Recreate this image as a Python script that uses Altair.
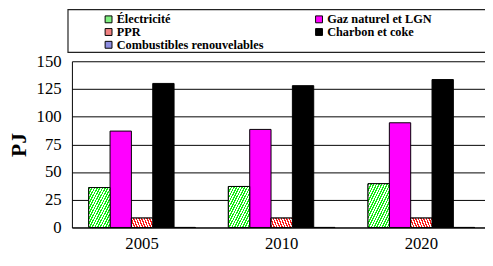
import altair as alt
import pandas as pd

years = ["2005", "2010", "2020"]
categories = ["Électricité", "Gaz naturel et LGN", "PPR", "Charbon et coke",
              "Combustibles renouvelables"]
electricite = [36, 37, 39.5]
gaz = [87, 88.5, 94.5]
ppr = [8.5, 8.5, 8.5]
charbon = [130, 128, 133.5]
renouvelables = [0, 0, 0]

series = [electricite, gaz, ppr, charbon, renouvelables]
rows = []
for cat, vals in zip(categories, series):
    for y, v in zip(years, vals):
        rows.append({"year": y, "category": cat, "value": v})
df = pd.DataFrame(rows)

solid_colors = ["#80F080", "#FF00FF", "#F08080", "#000000", "#8C8CE0"]
hatch = {
    "Électricité": "#10F010",
    "PPR": "#FF1A1A",
    "Combustibles renouvelables": "#3333CC",
}

FONT = "Liberation Serif"

x_enc = alt.X("year:N", sort=years,
              scale=alt.Scale(paddingInner=0.236, paddingOuter=0.097, align=0.62),
              axis=alt.Axis(title=None, labelAngle=0, labelFont=FONT, labelFontSize=17,
                            labelColor="black", labelPadding=8, ticks=False,
                            domainColor="black", domainWidth=1))
xo_enc = alt.XOffset("category:N", sort=categories,
                     scale=alt.Scale(domain=categories, paddingInner=0, paddingOuter=0))
y_enc = alt.Y("value:Q",
              scale=alt.Scale(domain=[0, 150], nice=False),
              axis=alt.Axis(title="PJ", values=[0, 25, 50, 75, 100, 125, 150],
                            titleFont=FONT, titleFontSize=22, titleFontWeight="bold",
                            titleColor="black", titlePadding=6,
                            labelFont=FONT, labelFontSize=17, labelColor="black",
                            labelPadding=11, ticks=False, grid=True,
                            gridColor="black", gridWidth=1,
                            domainColor="black", domainWidth=1))

base = alt.Chart(df).mark_bar(stroke="black", strokeWidth=1).encode(
    x=x_enc, xOffset=xo_enc, y=y_enc,
    color=alt.Color("category:N", sort=categories,
                    scale=alt.Scale(domain=categories, range=solid_colors),
                    legend=alt.Legend(orient="none", legendX=31, legendY=-49,
                                      direction="horizontal",
                                      columns=2, columnPadding=50, rowPadding=0,
                                      symbolType="square", symbolSize=49,
                                      symbolStrokeColor="black", symbolStrokeWidth=1,
                                      labelFont=FONT, labelFontSize=12.5,
                                      labelFontWeight="bold", labelColor="black",
                                      labelOffset=2, labelLimit=300,
                                      title=None, padding=0)),
)


def stripes(color, n=16):
    stops = []
    for i in range(n):
        a = i / n
        b = (i + 0.5) / n
        c = (i + 1) / n
        stops += [alt.GradientStop(color=color, offset=a),
                  alt.GradientStop(color=color, offset=b),
                  alt.GradientStop(color="white", offset=b),
                  alt.GradientStop(color="white", offset=c)]
    return alt.LinearGradient(gradient="linear", stops=stops, x1=0, y1=0, x2=1, y2=1)


layers = [base]
for cat, col in hatch.items():
    layers.append(
        alt.Chart(df).transform_filter(alt.datum.category == cat)
        .mark_bar(fill=stripes(col), stroke="black", strokeWidth=1)
        .encode(x=x_enc, xOffset=xo_enc, y=y_enc)
    )

frame = alt.Chart(pd.DataFrame({"a": [0]})).mark_rect(
    fill="transparent", stroke="#222222", strokeWidth=1.2
).encode(x=alt.value(-4), x2=alt.value(440), y=alt.value(-52.5), y2=alt.value(-9))

chart = alt.layer(*layers, frame).properties(
    width=420, height=169,
    autosize=alt.AutoSizeParams(type="none"),
    padding={"left": 65, "top": 52, "right": 0, "bottom": 37},
).configure(
    background="white", font=FONT
).configure_view(
    stroke=None
).configure_axis(
    labelFont=FONT, titleFont=FONT
).configure_legend(
    labelFont=FONT
)

chart.save("out.html", embed_options={"renderer": "svg", "actions": False})
